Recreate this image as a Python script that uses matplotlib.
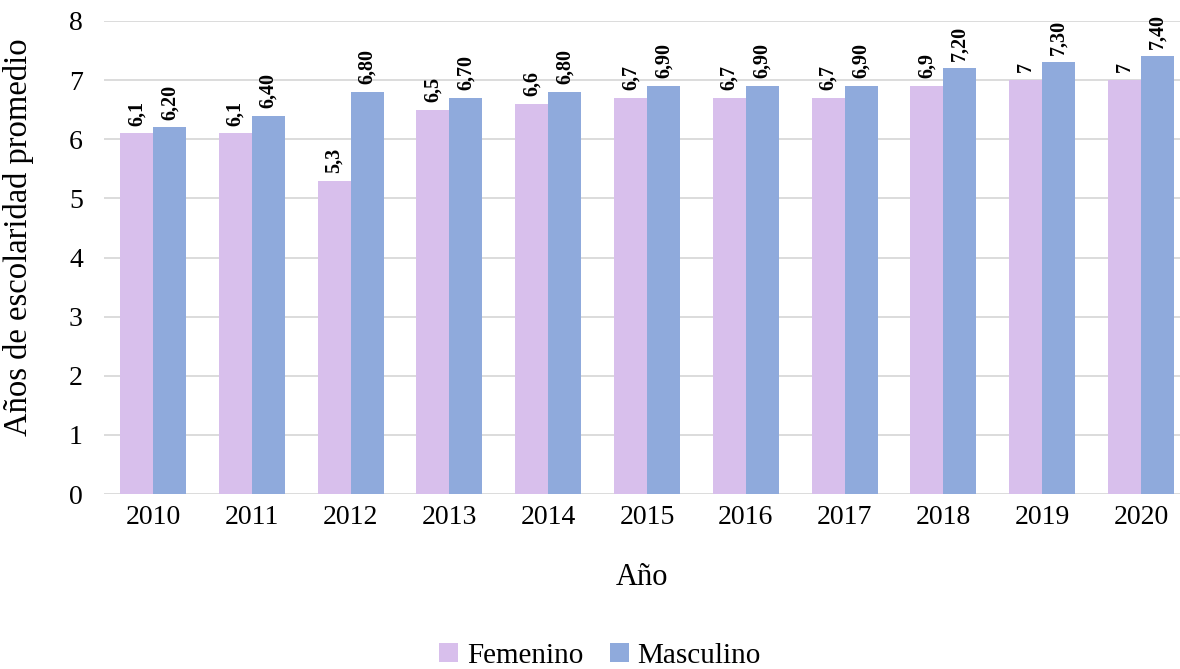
import matplotlib
matplotlib.use("Agg")
import matplotlib.pyplot as plt
import numpy as np

years = ["2010", "2011", "2012", "2013", "2014", "2015", "2016", "2017", "2018", "2019", "2020"]
femenino = [6.1, 6.1, 5.3, 6.5, 6.6, 6.7, 6.7, 6.7, 6.9, 7.0, 7.0]
masculino = [6.2, 6.4, 6.8, 6.7, 6.8, 6.9, 6.9, 6.9, 7.2, 7.3, 7.4]
fem_labels = ["6,1", "6,1", "5,3", "6,5", "6,6", "6,7", "6,7", "6,7", "6,9", "7", "7"]
mas_labels = ["6,20", "6,40", "6,80", "6,70", "6,80", "6,90", "6,90", "6,90", "7,20", "7,30", "7,40"]

plt.rcParams['font.family'] = ['Liberation Serif', 'DejaVu Serif']

fig = plt.figure(figsize=(11.8, 6.69), dpi=100)
ax = fig.add_axes([103.6/1180, 1-494/669, 1-103.6/1180, (494-21)/669])

x = np.arange(len(years))
w = 0.334
c_f = "#D8BFEC"
c_m = "#8FAADC"
b1 = ax.bar(x - w/2, femenino, w, color=c_f, label="Femenino", zorder=2)
b2 = ax.bar(x + w/2, masculino, w, color=c_m, label="Masculino", zorder=2)

for xi, v, t in zip(x - w/2, femenino, fem_labels):
    ax.annotate(t, (xi, v), xytext=(0, 5.5), textcoords="offset points",
                rotation=90, ha="center", va="bottom", fontsize=14.5, fontweight="bold")
for xi, v, t in zip(x + w/2, masculino, mas_labels):
    ax.annotate(t, (xi, v), xytext=(0, 5.5), textcoords="offset points",
                rotation=90, ha="center", va="bottom", fontsize=14.5, fontweight="bold")

ax.set_xlim(-0.5, 10.395)
ax.set_ylim(0, 8)
ax.set_yticks(range(0, 9))
ax.set_xticks(x)
ax.set_xticklabels(years)
ax.yaxis.grid(True, color="#d9d9d9", linewidth=1.3, zorder=0)
ax.set_axisbelow(True)
for s in ax.spines.values():
    s.set_visible(False)
ax.tick_params(axis="both", length=0, labelsize=20)
ax.tick_params(axis="y", pad=15)
ax.tick_params(axis="x", pad=8)

ax.set_xlabel("Año", fontsize=22, labelpad=24)
ax.set_ylabel("Años de escolaridad promedio", fontsize=23.5)
ax.yaxis.set_label_coords(-0.065, (494 - 237) / 473)

fig.legend(handles=[b1, b2], loc="center", bbox_to_anchor=(600/1180, 1-656/669),
           ncol=2, frameon=False, fontsize=21, handlelength=0.65, handleheight=0.65,
           handletextpad=0.3, columnspacing=0.9)

fig.savefig("out.png", dpi=100)
